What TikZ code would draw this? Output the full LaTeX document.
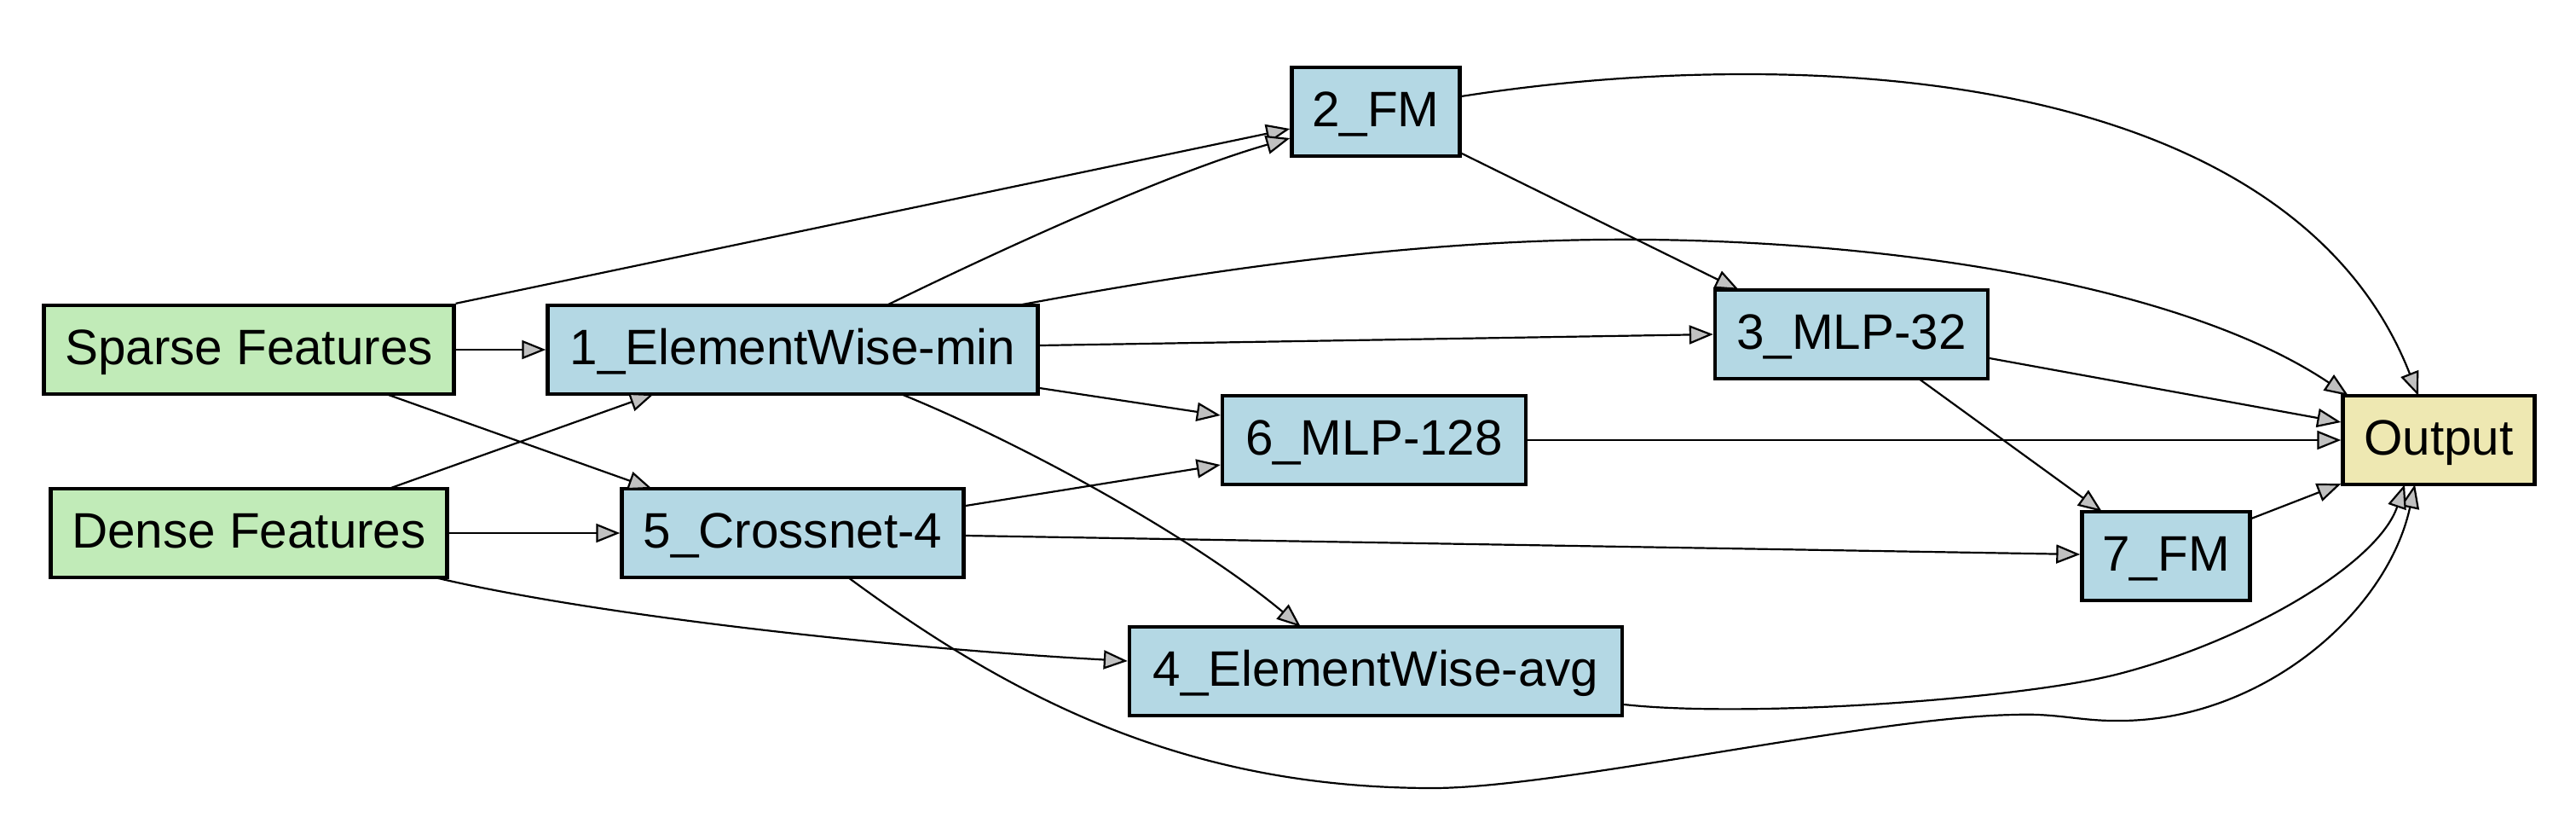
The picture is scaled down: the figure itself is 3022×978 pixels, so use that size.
\documentclass[tikz,border=0pt]{standalone}
\usepackage{fontspec}
\setmainfont{Liberation Sans}
\usetikzlibrary{arrows.meta,calc}
\definecolor{gfill}{HTML}{C1EBB8}
\definecolor{bfill}{HTML}{B4D8E4}
\definecolor{yfill}{HTML}{EEE8B2}
\definecolor{agray}{HTML}{C0C0C0}
\begin{document}
\begin{tikzpicture}[x=0.25pt,y=-0.25pt,
  box/.style={draw=black,line width=1.1pt,minimum height=26pt,inner sep=0pt,
    font=\fontsize{14.6}{17}\selectfont,text height=11pt,text depth=2.5pt},
  inbox/.style={box,fill=gfill},
  opbox/.style={box,fill=bfill},
  outbox/.style={box,fill=yfill},
  edge/.style={line width=0.55pt,draw=black,-{Triangle[length=7pt,width=5.5pt,fill=agray]}}]
\useasboundingbox (0,0) rectangle (3022,978);
% nodes
\node[inbox,minimum width=120.25pt] (sparse) at (292,410) {Sparse Features};
\node[inbox,minimum width=116.25pt] (dense) at (292,625) {Dense Features};
\node[opbox,minimum width=143.75pt] (ewmin) at (930,410) {1\_ElementWise-min};
\node[opbox,minimum width=100.25pt] (cross) at (930,625) {5\_Crossnet-4};
\node[opbox,minimum width=49.25pt] (fm2) at (1614,131) {2\_FM};
\node[opbox,minimum width=80pt] (mlp32) at (2172,392) {3\_MLP-32};
\node[opbox,minimum width=89pt] (mlp128) at (1612,516) {6\_MLP-128};
\node[opbox,minimum width=144.5pt] (ewavg) at (1614,787) {4\_ElementWise-avg};
\node[opbox,minimum width=49.25pt] (fm7) at (2541,652) {7\_FM};
\node[outbox,minimum width=56.25pt] (output) at (2861,516) {Output};
% edges
\draw[edge] (sparse.east) -- (ewmin.west);
\draw[edge] (sparse.north east) -- ($(fm2.west)+(0,20)$);
\draw[edge] ($(ewmin)+(110,-52)$) .. controls (1200,280) and (1380,200) .. ($(fm2.west)+(0,31)$);
\draw[edge] ($(sparse)+(161,52)$) -- ($(cross)+(-165,-52)$);
\draw[edge] ($(dense)+(164,-52)$) -- ($(ewmin)+(-163,52)$);
\draw[edge] (dense.east) -- (cross.west);
\draw[edge] ($(dense)+(218,52)$) .. controls (700,722) and (1050,760) .. ($(ewavg.west)+(0,-12)$);
\draw[edge] ($(ewmin.east)+(0,-5)$) -- (mlp32.west);
\draw[edge] ($(ewmin.east)+(0,45)$) -- ($(mlp128.west)+(0,-29)$);
\draw[edge] ($(ewmin)+(127,52)$) .. controls (1200,520) and (1400,630) .. ($(ewavg)+(-88,-52)$);
\draw[edge] ($(ewmin)+(264,-52)$) .. controls (1450,310) and (1700,278) .. (1937,281)
  .. controls (2250,285) and (2570,340) .. ($(output)+(-106,-52)$);
\draw[edge] ($(fm2)+(100,-18)$) .. controls (1830,95) and (1940,87) .. (2048,87)
  .. controls (2420,87) and (2730,190) .. ($(output)+(-24,-52)$);
\draw[edge] ($(fm2)+(99,48)$) -- ($(mlp32)+(-132,-52)$);
\draw[edge] ($(mlp32)+(162,28)$) -- ($(output.west)+(0,-21)$);
\draw[edge] ($(mlp32)+(79,52)$) -- ($(fm7)+(-75,-52)$);
\draw[edge] (mlp128.east) -- (output.west);
\draw[edge] ($(cross.east)+(0,-32)$) -- ($(mlp128.west)+(0,29)$);
\draw[edge] ($(cross.east)+(0,3)$) -- ($(fm7.west)+(0,-2)$);
\draw[edge] ($(cross)+(65,52)$) .. controls (1198,827) and (1401,924) .. (1681,924)
  .. controls (1830,924) and (2200,840) .. (2364,838)
  .. controls (2410,836) and (2440,845) .. (2480,845)
  .. controls (2650,848) and (2800,720) .. ($(output)+(-28,52)$);
\draw[edge] ($(ewavg.east)+(0,39)$) .. controls (2050,842) and (2370,820) .. (2486,790)
  .. controls (2640,750) and (2790,660) .. ($(output)+(-40,52)$);
\draw[edge] ($(fm7)+(100,-44)$) -- ($(output.south west)+(0,-3)$);
\end{tikzpicture}
\end{document}
